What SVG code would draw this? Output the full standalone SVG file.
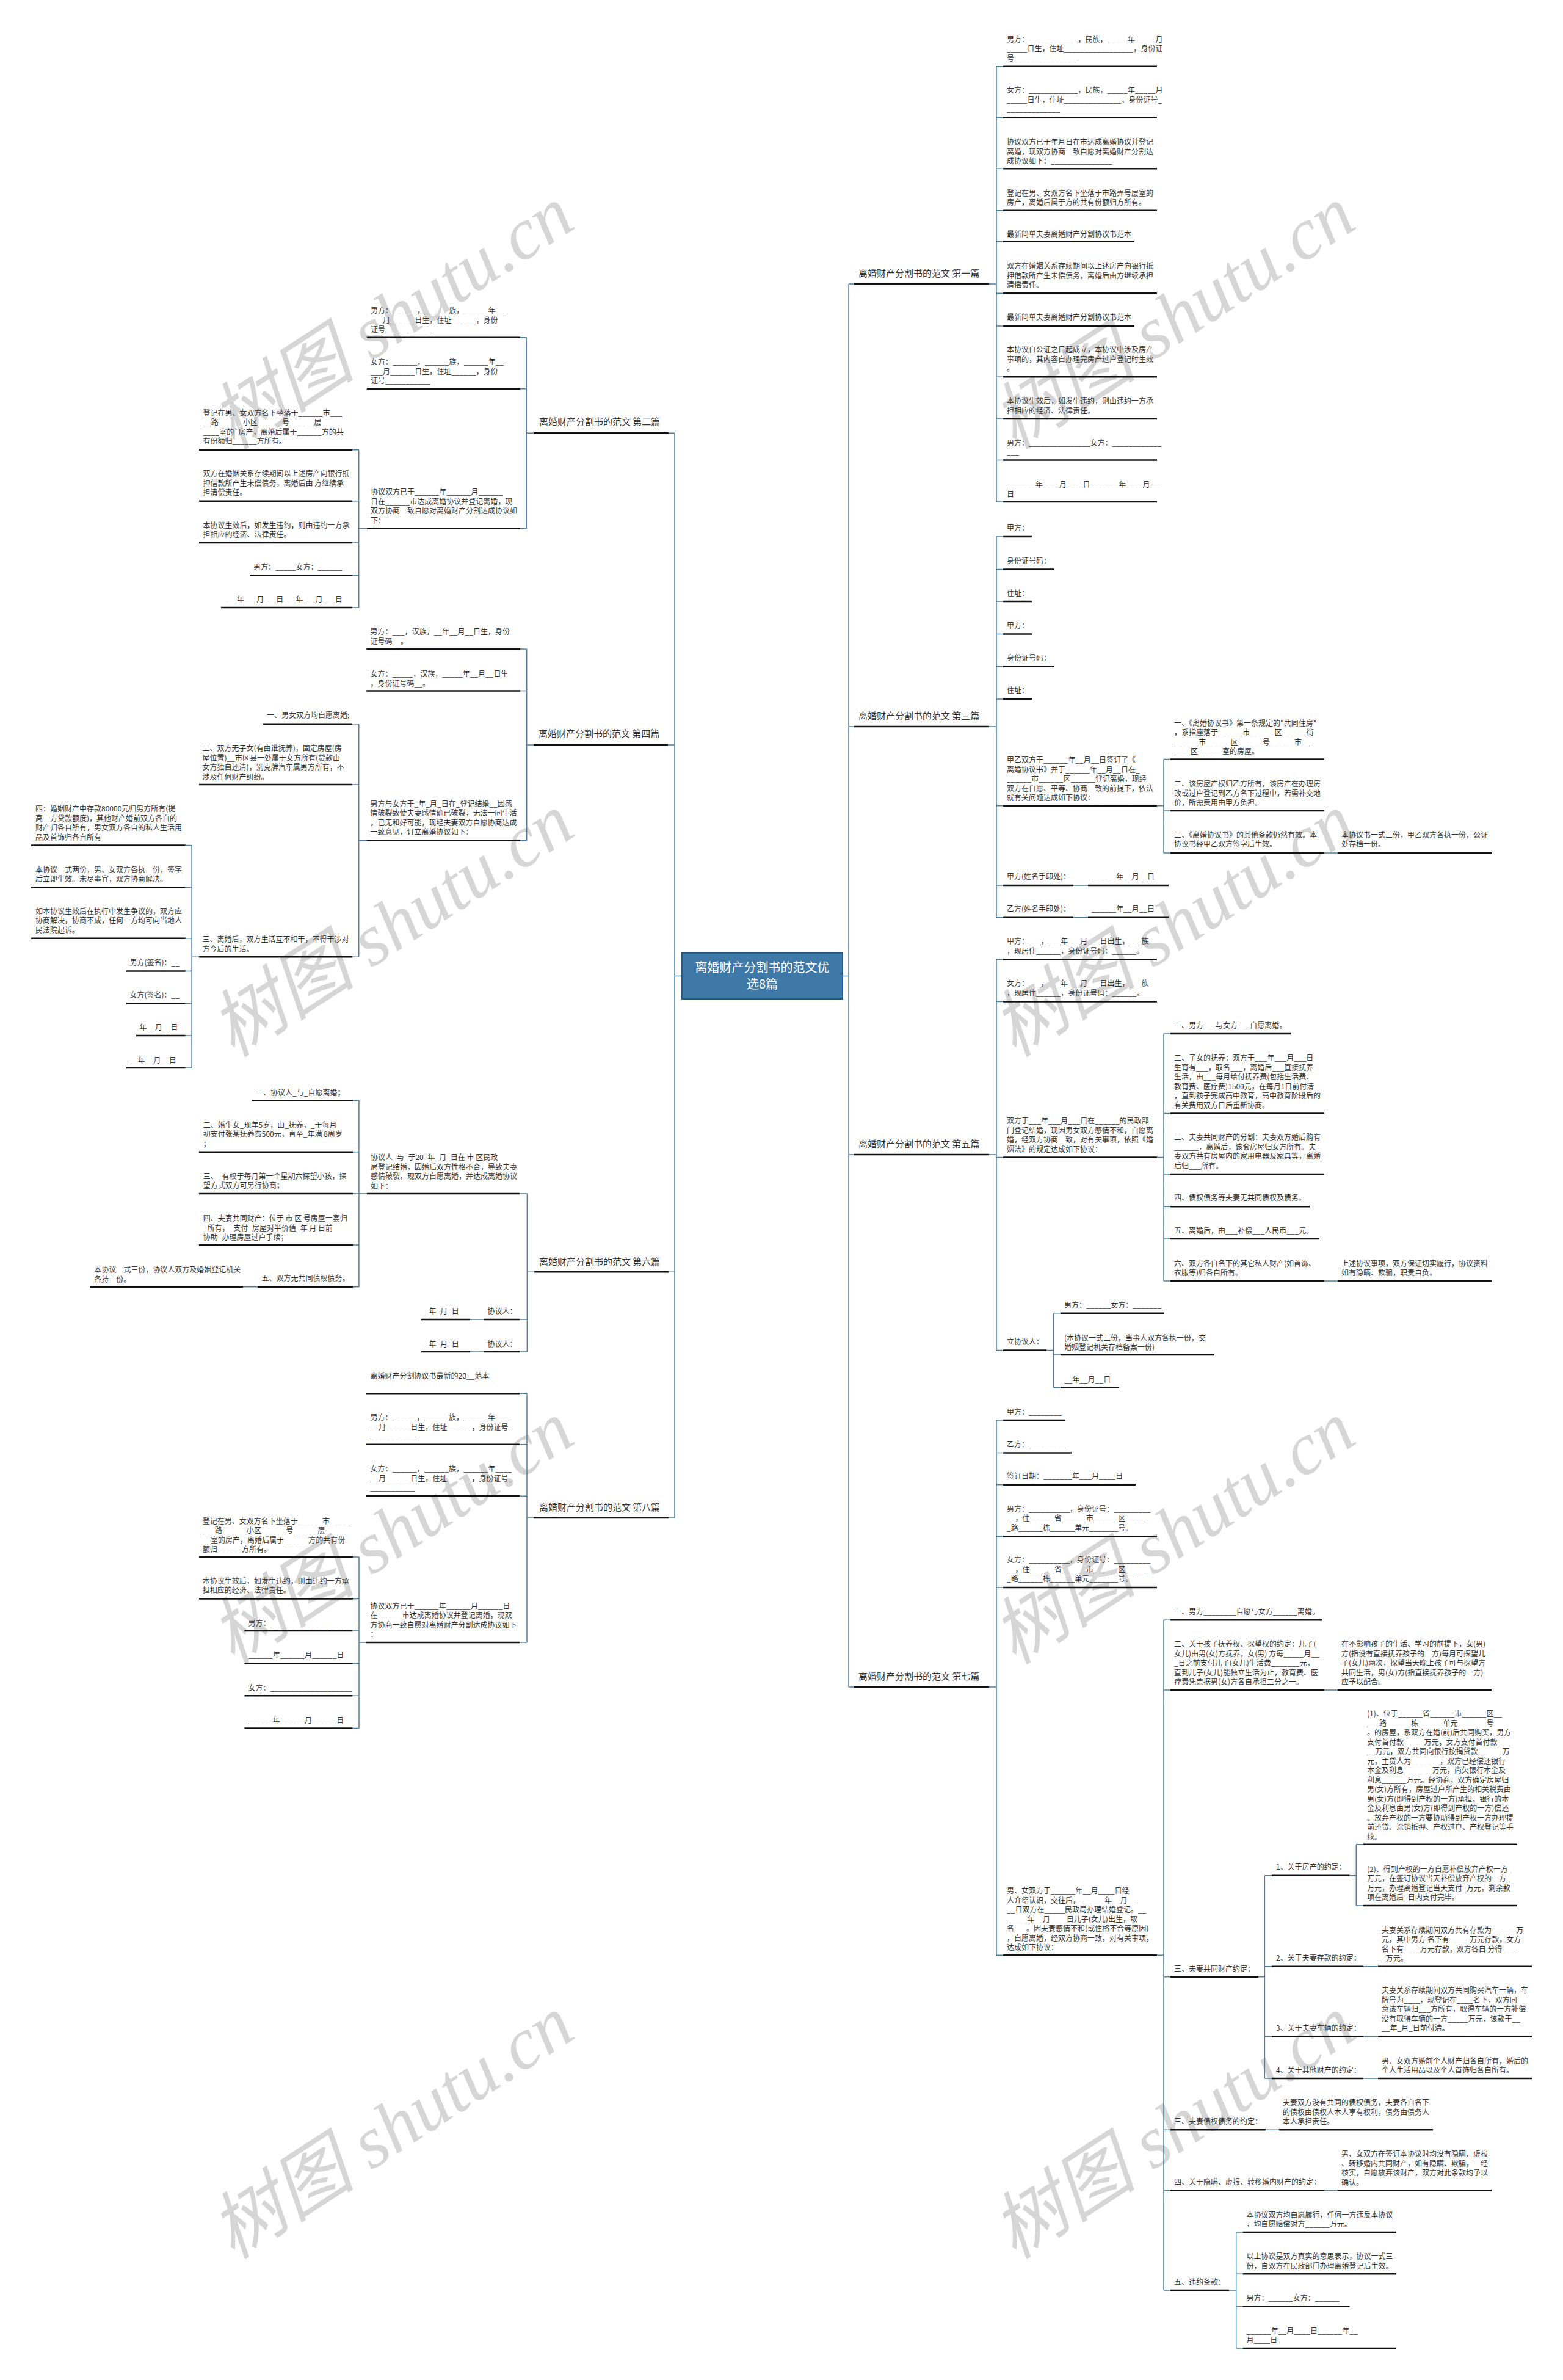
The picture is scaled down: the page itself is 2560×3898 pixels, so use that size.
<svg xmlns="http://www.w3.org/2000/svg" width="2560" height="3898" viewBox="0 0 2560 3898">
<style>
.t{font-family:"Noto Sans CJK SC","Liberation Sans",sans-serif;font-size:12px;fill:#333}
.l{font-family:"Noto Sans CJK SC","Liberation Sans",sans-serif;font-size:15px;fill:#333}
.u{stroke:#111;stroke-width:2.5}
.c{stroke:#4f7f9f;stroke-width:1.5;fill:none}
.wm{font-family:"Liberation Serif","Noto Sans CJK SC",serif;font-size:120px;font-style:italic;fill:#c8c8c8;fill-opacity:0.75}
</style>
<rect width="2560" height="3898" fill="#fff"/>
<g id="watermarks">
<text class="wm" x="646" y="560" text-anchor="middle" transform="rotate(-33 646 527)">树图 shutu.cn</text>
<text class="wm" x="646" y="1555" text-anchor="middle" transform="rotate(-33 646 1522)">树图 shutu.cn</text>
<text class="wm" x="646" y="2550" text-anchor="middle" transform="rotate(-33 646 2517)">树图 shutu.cn</text>
<text class="wm" x="646" y="3524" text-anchor="middle" transform="rotate(-33 646 3491)">树图 shutu.cn</text>
<text class="wm" x="1926" y="560" text-anchor="middle" transform="rotate(-33 1926 527)">树图 shutu.cn</text>
<text class="wm" x="1926" y="1555" text-anchor="middle" transform="rotate(-33 1926 1522)">树图 shutu.cn</text>
<text class="wm" x="1926" y="2550" text-anchor="middle" transform="rotate(-33 1926 2517)">树图 shutu.cn</text>
<text class="wm" x="1926" y="3524" text-anchor="middle" transform="rotate(-33 1926 3491)">树图 shutu.cn</text>
</g>
<g id="connectors">
<path class="c" d="M1117 1598.5H1105M1105 709.3V2486M1105 709.3H1095M1105 1220H1094M1105 2083.3H1095M1105 2486H1095"/>
<path class="c" d="M1380 1598.5H1390M1390 465V2763M1390 465H1399M1390 1190H1399M1390 1891H1399M1390 2763H1399"/>
<path class="c" d="M1620 465H1632M1632 108.7V822M1632 108.7H1643M1632 192.4H1643M1632 276.2H1643M1632 344.7H1643M1632 395.5H1643M1632 480.3H1643M1632 534H1643M1632 617.3H1643M1632 686H1643M1632 753.4H1643M1632 822H1643"/>
<path class="c" d="M1620 1190H1632M1632 878.9V1502.7M1632 878.9H1643M1632 932.4H1643M1632 985H1643M1632 1038.6H1643M1632 1091.6H1643M1632 1145H1643M1632 1319.8H1643M1632 1450H1643M1632 1502.7H1643M1895 1319.8H1906M1906 1243.4V1397M1906 1243.4H1917M1906 1328H1917M1906 1397H1917M2169 1397H2191M1758 1450H1782M1758 1502.7H1782"/>
<path class="c" d="M1620 1891H1632M1632 1571.2V2211.5M1632 1571.2H1643M1632 1640.4H1643M1632 1895.6H1643M1632 2211.5H1643M1895 1895.6H1906M1906 1693V2098M1906 1693H1917M1906 1823.5H1917M1906 1923H1917M1906 1976.2H1917M1906 2029H1917M1906 2098H1917M2169 2098H2191M1714 2211.5H1725.5M1725.5 2150.8V2272.7M1725.5 2150.8H1737M1725.5 2219H1737M1725.5 2272.7H1737"/>
<path class="c" d="M1620 2763H1632M1632 2326V3202.3M1632 2326H1643M1632 2379.4H1643M1632 2431.7H1643M1632 2516.5H1643M1632 2600H1643M1632 3202.3H1643M1895 3202.3H1906M1906 2653.2V3751M1906 2653.2H1917M1906 2768.1H1917M1906 3237.7H1917M1906 3488.3H1917M1906 3587.3H1917M1906 3751H1917M2169 2768.1H2191M2061 3237.7H2071.4M2071.4 3071.7V3404M2071.4 3071.7H2083M2071.4 3220.7H2083M2071.4 3335.7H2083M2071.4 3404H2083M2210.5 3071.7H2221.3M2221.3 3020.7V3121M2221.3 3020.7H2233M2221.3 3121H2233M2233 3220.7H2257M2233 3335.7H2257M2233 3404H2257M2073 3488.3H2095M2169 3587.3H2191M2013 3751H2024.7M2024.7 3656V3846M2024.7 3656H2035.5M2024.7 3724.3H2035.5M2024.7 3777.7H2035.5M2024.7 3846H2035.5"/>
<path class="c" d="M874 709.3H862.2M862.2 552.7V865.7M862.2 552.7H851.8M862.2 636.7H851.8M862.2 865.7H851.8M600.7 865.7H587.7M587.7 736.7V995M587.7 736.7H577M587.7 820.7H577M587.7 889H577M587.7 942.3H577M587.7 995H577"/>
<path class="c" d="M874 1220H862.7M862.7 1062.9V1376.7M862.7 1062.9H852.2M862.7 1131.6H852.2M862.7 1376.7H852.2M600.3 1376.7H587.7M587.7 1185.7V1567.3M587.7 1185.7H577M587.7 1284.9H577M587.7 1567.3H577M326 1567.3H314.1M314.1 1384.6V1749M314.1 1384.6H303.6M314.1 1453.3H303.6M314.1 1536.8H303.6M314.1 1590.4H303.6M314.1 1643.4H303.6M314.1 1696H303.6M314.1 1749H303.6"/>
<path class="c" d="M875 2083.3H863.4M863.4 1955V2214M863.4 1955H851M863.4 2161H851M863.4 2214H851M600.7 1955H587.9M587.9 1802.3V2107.7M587.9 1802.3H578M587.9 1886.7H578M587.9 1955H578M587.9 2039H578M587.9 2107.7H578M422 2107.7H398M792 2161H770M792 2214H770"/>
<path class="c" d="M874 2486H863M863 2282.2V2690M863 2282.2H851M863 2365.8H851M863 2450.2H851M863 2690H851M600 2690H588M588 2550V2830.6M588 2550H578M588 2618.5H578M588 2671.1H578M588 2724.2H578M588 2777.2H578M588 2830.6H578"/>
</g>
<g id="center">
<rect x="1117" y="1561" width="263" height="75" fill="#3f79a7" stroke="#2a577a" stroke-width="2"/>
<text x="1248.5" y="1592" text-anchor="middle" style="font-family:'Noto Sans CJK SC',sans-serif;font-size:20px;fill:#fff">离婚财产分割书的范文优</text>
<text x="1248.5" y="1619" text-anchor="middle" style="font-family:'Noto Sans CJK SC',sans-serif;font-size:20px;fill:#fff">选8篇</text>
</g>
<g id="label-1"><text class="l" x="1406" y="453">离婚财产分割书的范文 第一篇</text><line class="u" x1="1399" y1="465" x2="1620" y2="465"/></g>
<g id="label-3"><text class="l" x="1406" y="1178">离婚财产分割书的范文 第三篇</text><line class="u" x1="1399" y1="1190" x2="1620" y2="1190"/></g>
<g id="label-5"><text class="l" x="1406" y="1879">离婚财产分割书的范文 第五篇</text><line class="u" x1="1399" y1="1891" x2="1620" y2="1891"/></g>
<g id="label-7"><text class="l" x="1406" y="2751">离婚财产分割书的范文 第七篇</text><line class="u" x1="1399" y1="2763" x2="1620" y2="2763"/></g>
<g id="label-2"><text class="l" x="883" y="696">离婚财产分割书的范文 第二篇</text><line class="u" x1="874" y1="709.3" x2="1095" y2="709.3"/></g>
<g id="label-4"><text class="l" x="882" y="1207">离婚财产分割书的范文 第四篇</text><line class="u" x1="874" y1="1220" x2="1094" y2="1220"/></g>
<g id="label-6"><text class="l" x="883" y="2072">离婚财产分割书的范文 第六篇</text><line class="u" x1="875" y1="2083.3" x2="1095" y2="2083.3"/></g>
<g id="label-8"><text class="l" x="883" y="2474">离婚财产分割书的范文 第八篇</text><line class="u" x1="874" y1="2486" x2="1095" y2="2486"/></g>

<g id="b1-n1"><text class="t" y="68.5"><tspan x="1649">男方：____________，民族，_____年_____月</tspan><tspan x="1649" dy="15.5">_____日生，住址_________________，身份证</tspan><tspan x="1649" dy="15.5">号_______________</tspan></text><line class="u" x1="1643" y1="108.7" x2="1895" y2="108.7"/></g>
<g id="b1-n2"><text class="t" y="152.3"><tspan x="1649">女方：____________，民族，_____年_____月</tspan><tspan x="1649" dy="15.5">_____日生，住址______________，身份证号_</tspan><tspan x="1649" dy="15.5">_____________</tspan></text><line class="u" x1="1643" y1="192.4" x2="1895" y2="192.4"/></g>
<g id="b1-n3"><text class="t" y="237"><tspan x="1649">协议双方已于年月日在市达成离婚协议并登记</tspan><tspan x="1649" dy="15.5">离婚，现双方协商一致自愿对离婚财产分割达</tspan><tspan x="1649" dy="15.5">成协议如下：_______________</tspan></text><line class="u" x1="1643" y1="276.2" x2="1895" y2="276.2"/></g>
<g id="b1-n4"><text class="t" y="320.8"><tspan x="1649">登记在男、女双方名下坐落于市路弄号层室的</tspan><tspan x="1649" dy="15.5">房产，离婚后属于方的共有份额归方所有。</tspan></text><line class="u" x1="1643" y1="344.7" x2="1895" y2="344.7"/></g>
<g id="b1-n5"><text class="t" x="1649" y="387.8">最新简单夫妻离婚财产分割协议书范本</text><line class="u" x1="1643" y1="395.5" x2="1858" y2="395.5"/></g>
<g id="b1-n6"><text class="t" y="440"><tspan x="1649">双方在婚姻关系存续期间以上述房产向银行抵</tspan><tspan x="1649" dy="15.5">押借款所产生未偿债务，离婚后由方继续承担</tspan><tspan x="1649" dy="15.5">清偿责任。</tspan></text><line class="u" x1="1643" y1="480.3" x2="1895" y2="480.3"/></g>
<g id="b1-n7"><text class="t" x="1649" y="523.8">最新简单夫妻离婚财产分割协议书范本</text><line class="u" x1="1643" y1="534" x2="1858" y2="534"/></g>
<g id="b1-n8"><text class="t" y="577"><tspan x="1649">本协议自公证之日起成立，本协议中涉及房产</tspan><tspan x="1649" dy="15.5">事项的，其内容自办理完房产过户登记时生效</tspan><tspan x="1649" dy="15.5">。</tspan></text><line class="u" x1="1643" y1="617.3" x2="1895" y2="617.3"/></g>
<g id="b1-n9"><text class="t" y="661"><tspan x="1649">本协议生效后，如发生违约，则由违约一方承</tspan><tspan x="1649" dy="15.5">担相应的经济、法律责任。</tspan></text><line class="u" x1="1643" y1="686" x2="1895" y2="686"/></g>
<g id="b1-n10"><text class="t" y="729.5"><tspan x="1649">男方：_______________女方：____________</tspan><tspan x="1649" dy="15.5">___</tspan></text><line class="u" x1="1643" y1="753.4" x2="1895" y2="753.4"/></g>
<g id="b1-n11"><text class="t" y="798"><tspan x="1649">_______年____月____日_______年____月___</tspan><tspan x="1649" dy="15.5">日</tspan></text><line class="u" x1="1643" y1="822" x2="1895" y2="822"/></g>

<g id="b3-n1"><text class="t" x="1649" y="869">甲方：</text><line class="u" x1="1643" y1="878.9" x2="1690" y2="878.9"/></g>
<g id="b3-n2"><text class="t" x="1649" y="922.5">身份证号码：</text><line class="u" x1="1643" y1="932.4" x2="1727" y2="932.4"/></g>
<g id="b3-n3"><text class="t" x="1649" y="976">住址：</text><line class="u" x1="1643" y1="985" x2="1690" y2="985"/></g>
<g id="b3-n4"><text class="t" x="1649" y="1028.6">甲方：</text><line class="u" x1="1643" y1="1038.6" x2="1690" y2="1038.6"/></g>
<g id="b3-n5"><text class="t" x="1649" y="1082">身份证号码：</text><line class="u" x1="1643" y1="1091.6" x2="1727" y2="1091.6"/></g>
<g id="b3-n6"><text class="t" x="1649" y="1135">住址：</text><line class="u" x1="1643" y1="1145" x2="1690" y2="1145"/></g>
<g id="b3-n7"><text class="t" y="1249.3"><tspan x="1649">甲乙双方于______年__月__日签订了《</tspan><tspan x="1649" dy="15.5">离婚协议书》并于______年__月__日在_</tspan><tspan x="1649" dy="15.5">______市______区______登记离婚，现经</tspan><tspan x="1649" dy="15.5">双方在自愿、平等、协商一致的前提下，依法</tspan><tspan x="1649" dy="15.5">就有关问题达成如下协议：</tspan></text><line class="u" x1="1643" y1="1319.8" x2="1895" y2="1319.8"/></g>
<g id="b3-n7-1"><text class="t" y="1188.7"><tspan x="1923">一、《离婚协议书》第一条规定的"共同住房"</tspan><tspan x="1923" dy="15.5">，系指座落于______市______区______街</tspan><tspan x="1923" dy="15.5">______市______区______号______市__</tspan><tspan x="1923" dy="15.5">____区______室的房屋。</tspan></text><line class="u" x1="1917" y1="1243.4" x2="2169" y2="1243.4"/></g>
<g id="b3-n7-2"><text class="t" y="1288"><tspan x="1923">二、该房屋产权归乙方所有，该房产在办理房</tspan><tspan x="1923" dy="15.5">改或过户登记到乙方名下过程中，若需补交地</tspan><tspan x="1923" dy="15.5">价，所需费用由甲方负担。</tspan></text><line class="u" x1="1917" y1="1328" x2="2169" y2="1328"/></g>
<g id="b3-n7-3"><text class="t" y="1371.7"><tspan x="1923">三、《离婚协议书》的其他条款仍然有效。本</tspan><tspan x="1923" dy="15.5">协议书经甲乙双方签字后生效。</tspan></text><line class="u" x1="1917" y1="1397" x2="2169" y2="1397"/></g>
<g id="b3-n7-3-1"><text class="t" y="1371.7"><tspan x="2197">本协议书一式三份，甲乙双方各执一份，公证</tspan><tspan x="2197" dy="15.5">处存档一份。</tspan></text><line class="u" x1="2191" y1="1397" x2="2443" y2="1397"/></g>
<g id="b3-n8"><text class="t" x="1649" y="1440">甲方(姓名手印处)：</text><line class="u" x1="1643" y1="1450" x2="1758" y2="1450"/></g>
<g id="b3-n8-1"><text class="t" x="1788" y="1440">______年__月__日</text><line class="u" x1="1782" y1="1450" x2="1914" y2="1450"/></g>
<g id="b3-n9"><text class="t" x="1649" y="1492.8">乙方(姓名手印处)：</text><line class="u" x1="1643" y1="1502.7" x2="1758" y2="1502.7"/></g>
<g id="b3-n9-1"><text class="t" x="1788" y="1492.8">______年__月__日</text><line class="u" x1="1782" y1="1502.7" x2="1914" y2="1502.7"/></g>

<g id="b5-n1"><text class="t" y="1546.4"><tspan x="1649">甲方：___，___年___月___日出生，___族</tspan><tspan x="1649" dy="15.5">，现居住______，身份证号码：______。</tspan></text><line class="u" x1="1643" y1="1571.2" x2="1895" y2="1571.2"/></g>
<g id="b5-n2"><text class="t" y="1615"><tspan x="1649">女方：___，___年___月___日出生，___族</tspan><tspan x="1649" dy="15.5">，现居住______，身份证号码：______。</tspan></text><line class="u" x1="1643" y1="1640.4" x2="1895" y2="1640.4"/></g>
<g id="b5-n3"><text class="t" y="1840"><tspan x="1649">双方于___年___月___日在______的民政部</tspan><tspan x="1649" dy="15.5">门登记结婚，现因男女双方感情不和，自愿离</tspan><tspan x="1649" dy="15.5">婚，经双方协商一致，对有关事项，依照《婚</tspan><tspan x="1649" dy="15.5">姻法》的规定达成如下协议：</tspan></text><line class="u" x1="1643" y1="1895.6" x2="1895" y2="1895.6"/></g>
<g id="b5-n3-1"><text class="t" x="1923" y="1684.2">一、男方___与女方___自愿离婚。</text><line class="u" x1="1917" y1="1693" x2="2115" y2="1693"/></g>
<g id="b5-n3-2"><text class="t" y="1737"><tspan x="1923">二、子女的抚养：双方于___年___月___日</tspan><tspan x="1923" dy="15.5">生育有___，取名___，离婚后___直接抚养</tspan><tspan x="1923" dy="15.5">生活，由___每月给付抚养费(包括生活费、</tspan><tspan x="1923" dy="15.5">教育费、医疗费)1500元，在每月1日前付清</tspan><tspan x="1923" dy="15.5">，直到孩子完成高中教育，高中教育阶段后的</tspan><tspan x="1923" dy="15.5">有关费用双方日后重新协商。</tspan></text><line class="u" x1="1917" y1="1823.5" x2="2169" y2="1823.5"/></g>
<g id="b5-n3-3"><text class="t" y="1867.3"><tspan x="1923">三、夫妻共同财产的分割：夫妻双方婚后购有</tspan><tspan x="1923" dy="15.5">______，离婚后，该套房屋归女方所有。夫</tspan><tspan x="1923" dy="15.5">妻双方共有房屋内的家用电器及家具等，离婚</tspan><tspan x="1923" dy="15.5">后归___所有。</tspan></text><line class="u" x1="1917" y1="1923" x2="2169" y2="1923"/></g>
<g id="b5-n3-4"><text class="t" x="1923" y="1965.8">四、债权债务等夫妻无共同债权及债务。</text><line class="u" x1="1917" y1="1976.2" x2="2145" y2="1976.2"/></g>
<g id="b5-n3-5"><text class="t" x="1923" y="2019.5">五、离婚后，由___补偿___人民币___元。</text><line class="u" x1="1917" y1="2029" x2="2161" y2="2029"/></g>
<g id="b5-n3-6"><text class="t" y="2073.8"><tspan x="1923">六、双方各自名下的其它私人财产(如首饰、</tspan><tspan x="1923" dy="15.5">衣服等)归各自所有。</tspan></text><line class="u" x1="1917" y1="2098" x2="2169" y2="2098"/></g>
<g id="b5-n3-6-1"><text class="t" y="2073.8"><tspan x="2197">上述协议事项，双方保证切实履行，协议资料</tspan><tspan x="2197" dy="15.5">如有隐瞒、欺骗，职责自负。</tspan></text><line class="u" x1="2191" y1="2098" x2="2443" y2="2098"/></g>
<g id="b5-n4"><text class="t" x="1649" y="2201.6">立协议人：</text><line class="u" x1="1643" y1="2211.5" x2="1714" y2="2211.5"/></g>
<g id="b5-n4-1"><text class="t" x="1743" y="2142">男方：______女方：_______</text><line class="u" x1="1737" y1="2150.8" x2="1907" y2="2150.8"/></g>
<g id="b5-n4-2"><text class="t" y="2195.6"><tspan x="1743">(本协议一式三份，当事人双方各执一份，交</tspan><tspan x="1743" dy="15.5">婚姻登记机关存档备案一份)</tspan></text><line class="u" x1="1737" y1="2219" x2="1989" y2="2219"/></g>
<g id="b5-n4-3"><text class="t" x="1743" y="2263.8">__年__月__日</text><line class="u" x1="1737" y1="2272.7" x2="1833" y2="2272.7"/></g>

<g id="b7-n1"><text class="t" x="1649" y="2316.5">甲方：________</text><line class="u" x1="1643" y1="2326" x2="1745" y2="2326"/></g>
<g id="b7-n2"><text class="t" x="1649" y="2370.3">乙方：_________</text><line class="u" x1="1643" y1="2379.4" x2="1755" y2="2379.4"/></g>
<g id="b7-n3"><text class="t" x="1649" y="2422.2">签订日期：_______年___月____日</text><line class="u" x1="1643" y1="2431.7" x2="1860" y2="2431.7"/></g>
<g id="b7-n4"><text class="t" y="2475.5"><tspan x="1649">男方：__________，身份证号：_________</tspan><tspan x="1649" dy="15.5">__，住______省______市______区_____</tspan><tspan x="1649" dy="15.5">_路______栋______单元_______号。</tspan></text><line class="u" x1="1643" y1="2516.5" x2="1895" y2="2516.5"/></g>
<g id="b7-n5"><text class="t" y="2559.3"><tspan x="1649">女方：__________，身份证号：_________</tspan><tspan x="1649" dy="15.5">__，住______省______市______区_____</tspan><tspan x="1649" dy="15.5">_路______栋______单元_______号。</tspan></text><line class="u" x1="1643" y1="2600" x2="1895" y2="2600"/></g>
<g id="b7-n6"><text class="t" y="3101.3"><tspan x="1649">男、女双方于______年__月____日经</tspan><tspan x="1649" dy="15.5">人介绍认识，交往后，______年__月__</tspan><tspan x="1649" dy="15.5">__日双方在_____民政局办理结婚登记。__</tspan><tspan x="1649" dy="15.5">_____年__月____日儿子(女儿)出生，取</tspan><tspan x="1649" dy="15.5">名___。因夫妻感情不和(或性格不合等原因)</tspan><tspan x="1649" dy="15.5">，自愿离婚，经双方协商一致，对有关事项，</tspan><tspan x="1649" dy="15.5">达成如下协议：</tspan></text><line class="u" x1="1643" y1="3202.3" x2="1895" y2="3202.3"/></g>
<g id="b7-n6-1"><text class="t" x="1923" y="2643.7">一、男方________自愿与女方______离婚。</text><line class="u" x1="1917" y1="2653.2" x2="2165" y2="2653.2"/></g>
<g id="b7-n6-2"><text class="t" y="2697"><tspan x="1923">二、关于孩子抚养权、探望权的约定：儿子(</tspan><tspan x="1923" dy="15.5">女儿)由男(女)方抚养，女(男) 方每_____月__</tspan><tspan x="1923" dy="15.5">_日之前支付儿子(女儿)生活费_______元，</tspan><tspan x="1923" dy="15.5">直到儿子(女儿)能独立生活为止，教育费、医</tspan><tspan x="1923" dy="15.5">疗费凭票据男(女)方各自承担二分之一。</tspan></text><line class="u" x1="1917" y1="2768.1" x2="2169" y2="2768.1"/></g>
<g id="b7-n6-2-1"><text class="t" y="2697"><tspan x="2197">在不影响孩子的生活、学习的前提下，女(男)</tspan><tspan x="2197" dy="15.5">方(指没有直接抚养孩子的一方)每月可探望儿</tspan><tspan x="2197" dy="15.5">子(女儿)两次，探望当天晚上孩子可与探望方</tspan><tspan x="2197" dy="15.5">共同生活，男(女)方(指直接抚养孩子的一方)</tspan><tspan x="2197" dy="15.5">应予以配合。</tspan></text><line class="u" x1="2191" y1="2768.1" x2="2443" y2="2768.1"/></g>
<g id="b7-n6-3"><text class="t" x="1923" y="3229">三、夫妻共同财产约定：</text><line class="u" x1="1917" y1="3237.7" x2="2061" y2="3237.7"/></g>
<g id="b7-n6-3-1"><text class="t" x="2090" y="3062.3">1、关于房产的约定：</text><line class="u" x1="2083" y1="3071.7" x2="2210.5" y2="3071.7"/></g>
<g id="b7-n6-3-1-1"><text class="t" y="2811.4"><tspan x="2239">(1)、位于______省______市______区__</tspan><tspan x="2239" dy="15.5">___路______栋______单元_______号</tspan><tspan x="2239" dy="15.5">。的房屋，系双方在婚(前)后共同购买，男方</tspan><tspan x="2239" dy="15.5">支付首付款_____万元，女方支付首付款___</tspan><tspan x="2239" dy="15.5">__万元，双方共同向银行按揭贷款______万</tspan><tspan x="2239" dy="15.5">元，主贷人为_______，双方已经偿还银行</tspan><tspan x="2239" dy="15.5">本金及利息_______万元，尚欠银行本金及</tspan><tspan x="2239" dy="15.5">利息______万元。经协商，双方确定房屋归</tspan><tspan x="2239" dy="15.5">男(女)方所有，房屋过户所产生的相关税费由</tspan><tspan x="2239" dy="15.5">男(女)方(即得到产权的一方)承担，银行的本</tspan><tspan x="2239" dy="15.5">金及利息由男(女)方(即得到产权的一方)偿还</tspan><tspan x="2239" dy="15.5">。放弃产权的一方要协助得到产权一方办理提</tspan><tspan x="2239" dy="15.5">前还贷、涂销抵押、产权过户、产权登记等手</tspan><tspan x="2239" dy="15.5">续。</tspan></text><line class="u" x1="2233" y1="3020.7" x2="2485" y2="3020.7"/></g>
<g id="b7-n6-3-1-2"><text class="t" y="3065.7"><tspan x="2239">(2)、得到产权的一方自愿补偿放弃产权一方_</tspan><tspan x="2239" dy="15.5">万元，在签订协议当天补偿放弃产权的一方_</tspan><tspan x="2239" dy="15.5">万元，办理离婚登记当天支付_万元，剩余款</tspan><tspan x="2239" dy="15.5">项在离婚后_日内支付完毕。</tspan></text><line class="u" x1="2233" y1="3121" x2="2485" y2="3121"/></g>
<g id="b7-n6-3-2"><text class="t" x="2090" y="3211.3">2、关于夫妻存款的约定：</text><line class="u" x1="2083" y1="3220.7" x2="2233" y2="3220.7"/></g>
<g id="b7-n6-3-2-1"><text class="t" y="3165.7"><tspan x="2263">夫妻关系存续期间双方共有存款为______万</tspan><tspan x="2263" dy="15.5">元，其中男方 名下有_____万元存款，女方</tspan><tspan x="2263" dy="15.5">名下有____万元存款，双方各自 分得____</tspan><tspan x="2263" dy="15.5">_万元。</tspan></text><line class="u" x1="2257" y1="3220.7" x2="2509" y2="3220.7"/></g>
<g id="b7-n6-3-3"><text class="t" x="2090" y="3326.3">3、关于夫妻车辆的约定：</text><line class="u" x1="2083" y1="3335.7" x2="2233" y2="3335.7"/></g>
<g id="b7-n6-3-3-1"><text class="t" y="3264"><tspan x="2263">夫妻关系存续期间双方共同购买汽车一辆，车</tspan><tspan x="2263" dy="15.5">牌号为____，现登记在____名下，双方同</tspan><tspan x="2263" dy="15.5">意该车辆归___方所有，取得车辆的一方补偿</tspan><tspan x="2263" dy="15.5">没有取得车辆的一方_____万元，该款于__</tspan><tspan x="2263" dy="15.5">__年_月_日前付清。</tspan></text><line class="u" x1="2257" y1="3335.7" x2="2509" y2="3335.7"/></g>
<g id="b7-n6-3-4"><text class="t" x="2090" y="3394.7">4、关于其他财产的约定：</text><line class="u" x1="2083" y1="3404" x2="2233" y2="3404"/></g>
<g id="b7-n6-3-4-1"><text class="t" y="3379.7"><tspan x="2263">男、女双方婚前个人财产归各自所有，婚后的</tspan><tspan x="2263" dy="15.5">个人生活用品以及个人首饰归各自所有。</tspan></text><line class="u" x1="2257" y1="3404" x2="2509" y2="3404"/></g>
<g id="b7-n6-4"><text class="t" x="1923" y="3479">三、夫妻债权债务的约定：</text><line class="u" x1="1917" y1="3488.3" x2="2073" y2="3488.3"/></g>
<g id="b7-n6-4-1"><text class="t" y="3448"><tspan x="2101">夫妻双方没有共同的债权债务，夫妻各自名下</tspan><tspan x="2101" dy="15.5">的债权由债权人本人享有权利，债务由债务人</tspan><tspan x="2101" dy="15.5">本人承担责任。</tspan></text><line class="u" x1="2095" y1="3488.3" x2="2347" y2="3488.3"/></g>
<g id="b7-n6-5"><text class="t" x="1923" y="3578.3">四、关于隐瞒、虚报、转移婚内财产的约定：</text><line class="u" x1="1917" y1="3587.3" x2="2169" y2="3587.3"/></g>
<g id="b7-n6-5-1"><text class="t" y="3532.3"><tspan x="2197">男、女双方在签订本协议时均没有隐瞒、虚报</tspan><tspan x="2197" dy="15.5">、转移婚内共同财产，如有隐瞒、欺骗，一经</tspan><tspan x="2197" dy="15.5">核实，自愿放弃该财产，双方对此条款均予以</tspan><tspan x="2197" dy="15.5">确认。</tspan></text><line class="u" x1="2191" y1="3587.3" x2="2443" y2="3587.3"/></g>
<g id="b7-n6-6"><text class="t" x="1923" y="3742.3">五、违约条款：</text><line class="u" x1="1917" y1="3751" x2="2013" y2="3751"/></g>
<g id="b7-n6-6-1"><text class="t" y="3631.7"><tspan x="2041.5">本协议双方均自愿履行，任何一方违反本协议</tspan><tspan x="2041.5" dy="15.5">，均自愿赔偿对方______万元。</tspan></text><line class="u" x1="2035.5" y1="3656" x2="2287" y2="3656"/></g>
<g id="b7-n6-6-2"><text class="t" y="3700"><tspan x="2041.5">以上协议是双方真实的意思表示，协议一式三</tspan><tspan x="2041.5" dy="15.5">份，自双方在民政部门办理离婚登记后生效。</tspan></text><line class="u" x1="2035.5" y1="3724.3" x2="2287" y2="3724.3"/></g>
<g id="b7-n6-6-3"><text class="t" x="2041.5" y="3768.3">男方：______女方：______</text><line class="u" x1="2035.5" y1="3777.7" x2="2210.5" y2="3777.7"/></g>
<g id="b7-n6-6-4"><text class="t" y="3821.7"><tspan x="2041.5">______年__月____日______年__</tspan><tspan x="2041.5" dy="15.5">月____日</tspan></text><line class="u" x1="2035.5" y1="3846" x2="2287" y2="3846"/></g>

<g id="b2-n1"><text class="t" y="513.3"><tspan x="607">男方：______，______族，______年__</tspan><tspan x="607" dy="15.5">___月______日生，住址______，身份</tspan><tspan x="607" dy="15.5">证号____________</tspan></text><line class="u" x1="600.7" y1="552.7" x2="851.8" y2="552.7"/></g>
<g id="b2-n2"><text class="t" y="597.3"><tspan x="607">女方：______，______族，______年__</tspan><tspan x="607" dy="15.5">___月______日生，住址______，身份</tspan><tspan x="607" dy="15.5">证号___________</tspan></text><line class="u" x1="600.7" y1="636.7" x2="851.8" y2="636.7"/></g>
<g id="b2-n3"><text class="t" y="810"><tspan x="607">协议双方已于______年______月______</tspan><tspan x="607" dy="15.5">日在______市达成离婚协议并登记离婚，现</tspan><tspan x="607" dy="15.5">双方协商一致自愿对离婚财产分割达成协议如</tspan><tspan x="607" dy="15.5">下：</tspan></text><line class="u" x1="600.7" y1="865.7" x2="851.8" y2="865.7"/></g>
<g id="b2-n3-1"><text class="t" y="680.7"><tspan x="332.4">登记在男、女双方名下坐落于______市___</tspan><tspan x="332.4" dy="15.5">__路______小区______号______层__</tspan><tspan x="332.4" dy="15.5">____室的`房产，离婚后属于______方的共</tspan><tspan x="332.4" dy="15.5">有份额归______方所有。</tspan></text><line class="u" x1="326" y1="736.7" x2="577" y2="736.7"/></g>
<g id="b2-n3-2"><text class="t" y="780"><tspan x="332.4">双方在婚姻关系存续期间以上述房产向银行抵</tspan><tspan x="332.4" dy="15.5">押借款所产生未偿债务，离婚后由 方继续承</tspan><tspan x="332.4" dy="15.5">担清偿责任。</tspan></text><line class="u" x1="326" y1="820.7" x2="577" y2="820.7"/></g>
<g id="b2-n3-3"><text class="t" y="864.7"><tspan x="332.4">本协议生效后，如发生违约，则由违约一方承</tspan><tspan x="332.4" dy="15.5">担相应的经济、法律责任。</tspan></text><line class="u" x1="326" y1="889" x2="577" y2="889"/></g>
<g id="b2-n3-4"><text class="t" x="415" y="933.3">男方：_____女方：______</text><line class="u" x1="409" y1="942.3" x2="577" y2="942.3"/></g>
<g id="b2-n3-5"><text class="t" x="368" y="986.3">___年___月___日___年___月___日</text><line class="u" x1="362" y1="995" x2="577" y2="995"/></g>

<g id="b4-n1"><text class="t" y="1039.4"><tspan x="606.6">男方：___，汉族，__年__月__日生，身份</tspan><tspan x="606.6" dy="15.5">证号码__。</tspan></text><line class="u" x1="600.3" y1="1062.9" x2="852.2" y2="1062.9"/></g>
<g id="b4-n2"><text class="t" y="1108.1"><tspan x="606.6">女方：_____，汉族，_____年__月__日生</tspan><tspan x="606.6" dy="15.5">，身份证号码__。</tspan></text><line class="u" x1="600.3" y1="1131.6" x2="852.2" y2="1131.6"/></g>
<g id="b4-n3"><text class="t" y="1320.8"><tspan x="606.6">男方与女方于_年_月_日在_登记结婚__因感</tspan><tspan x="606.6" dy="15.5">情破裂致使夫妻感情确已破裂，无法一同生活</tspan><tspan x="606.6" dy="15.5">，已无和好可能，现经夫妻双方自愿协商达成</tspan><tspan x="606.6" dy="15.5">一致意见，订立离婚协议如下：</tspan></text><line class="u" x1="600.3" y1="1376.7" x2="852.2" y2="1376.7"/></g>
<g id="b4-n3-1"><text class="t" x="437" y="1175.9">一、男女双方均自愿离婚;</text><line class="u" x1="431" y1="1185.7" x2="577" y2="1185.7"/></g>
<g id="b4-n3-2"><text class="t" y="1230"><tspan x="331.6">二、双方无子女(有由谁抚养)，固定房屋(房</tspan><tspan x="331.6" dy="15.5">屋位置)__市区县一处属于女方所有(贷款由</tspan><tspan x="331.6" dy="15.5">女方独自还清)，别克牌汽车属男方所有，不</tspan><tspan x="331.6" dy="15.5">涉及任何财产纠纷。</tspan></text><line class="u" x1="326" y1="1284.9" x2="577" y2="1284.9"/></g>
<g id="b4-n3-3"><text class="t" y="1543.3"><tspan x="331.6">三、离婚后，双方生活互不相干，不得干涉对</tspan><tspan x="331.6" dy="15.5">方今后的生活。</tspan></text><line class="u" x1="326" y1="1567.3" x2="577" y2="1567.3"/></g>
<g id="b4-n3-3-1"><text class="t" y="1329.1"><tspan x="58">四：婚姻财产中存款80000元归男方所有(提</tspan><tspan x="58" dy="15.5">高一方贷款额度)，其他财产婚前双方各自的</tspan><tspan x="58" dy="15.5">财产归各自所有，男女双方各自的私人生活用</tspan><tspan x="58" dy="15.5">品及首饰归各自所有</tspan></text><line class="u" x1="51" y1="1384.6" x2="303.6" y2="1384.6"/></g>
<g id="b4-n3-3-2"><text class="t" y="1428.9"><tspan x="58">本协议一式两份，男、女双方各执一份，签字</tspan><tspan x="58" dy="15.5">后立即生效。未尽事宜，双方协商解决。</tspan></text><line class="u" x1="51" y1="1453.3" x2="303.6" y2="1453.3"/></g>
<g id="b4-n3-3-3"><text class="t" y="1496.6"><tspan x="58">如本协议生效后在执行中发生争议的，双方应</tspan><tspan x="58" dy="15.5">协商解决，协商不成，任何一方均可向当地人</tspan><tspan x="58" dy="15.5">民法院起诉。</tspan></text><line class="u" x1="51" y1="1536.8" x2="303.6" y2="1536.8"/></g>
<g id="b4-n3-3-4"><text class="t" x="212.4" y="1581.1">男方(签名)：__</text><line class="u" x1="206.8" y1="1590.4" x2="303.6" y2="1590.4"/></g>
<g id="b4-n3-3-5"><text class="t" x="212.4" y="1634.2">女方(签名)：__</text><line class="u" x1="206.8" y1="1643.4" x2="303.6" y2="1643.4"/></g>
<g id="b4-n3-3-6"><text class="t" x="228.5" y="1686.7">年__月__日</text><line class="u" x1="223" y1="1696" x2="303.6" y2="1696"/></g>
<g id="b4-n3-3-7"><text class="t" x="212.4" y="1740.7">__年__月__日</text><line class="u" x1="206.8" y1="1749" x2="303.6" y2="1749"/></g>

<g id="b6-n1"><text class="t" y="1900"><tspan x="607">协议人_与_于20_年_月_日在 市 区民政</tspan><tspan x="607" dy="15.5">局登记结婚，因婚后双方性格不合，导致夫妻</tspan><tspan x="607" dy="15.5">感情破裂，现双方自愿离婚，并达成离婚协议</tspan><tspan x="607" dy="15.5">如下：</tspan></text><line class="u" x1="600.7" y1="1955" x2="851" y2="1955"/></g>
<g id="b6-n1-1"><text class="t" x="419" y="1794">一、协议人_与_自愿离婚；</text><line class="u" x1="412.5" y1="1802.3" x2="578" y2="1802.3"/></g>
<g id="b6-n1-2"><text class="t" y="1846.7"><tspan x="332.8">二、婚生女_现年5岁，由_抚养，_于每月</tspan><tspan x="332.8" dy="15.5">初支付张某抚养费500元，直至_年满 8周岁</tspan><tspan x="332.8" dy="15.5">；</tspan></text><line class="u" x1="325.8" y1="1886.7" x2="578" y2="1886.7"/></g>
<g id="b6-n1-3"><text class="t" y="1930.7"><tspan x="332.8">三、_有权于每月第一个星期六探望小孩，探</tspan><tspan x="332.8" dy="15.5">望方式双方可另行协商；</tspan></text><line class="u" x1="325.8" y1="1955" x2="578" y2="1955"/></g>
<g id="b6-n1-4"><text class="t" y="2000"><tspan x="332.8">四、夫妻共同财产：位于 市 区 号房屋一套归</tspan><tspan x="332.8" dy="15.5">_所有，_支付_房屋对半价值_年 月 日前</tspan><tspan x="332.8" dy="15.5">协助_办理房屋过户手续；</tspan></text><line class="u" x1="325.8" y1="2039" x2="578" y2="2039"/></g>
<g id="b6-n1-5"><text class="t" x="428.5" y="2098.3">五、双方无共同债权债务。</text><line class="u" x1="422" y1="2107.7" x2="578" y2="2107.7"/></g>
<g id="b6-n1-5-1"><text class="t" y="2084"><tspan x="154.2">本协议一式三份，协议人双方及婚姻登记机关</tspan><tspan x="154.2" dy="15.5">各持一份。</tspan></text><line class="u" x1="148" y1="2107.7" x2="398" y2="2107.7"/></g>
<g id="b6-n2"><text class="t" x="798.4" y="2151.7">协议人：</text><line class="u" x1="792" y1="2161" x2="851" y2="2161"/></g>
<g id="b6-n2-1"><text class="t" x="695.7" y="2151.7">_年_月_日</text><line class="u" x1="690" y1="2161" x2="770" y2="2161"/></g>
<g id="b6-n3"><text class="t" x="798.4" y="2205.7">协议人：</text><line class="u" x1="792" y1="2214" x2="851" y2="2214"/></g>
<g id="b6-n3-1"><text class="t" x="695.7" y="2205.7">_年_月_日</text><line class="u" x1="690" y1="2214" x2="770" y2="2214"/></g>

<g id="b8-n1"><text class="t" x="606.5" y="2258">离婚财产分割协议书最新的20__范本</text><line class="u" x1="600" y1="2282.2" x2="851" y2="2282.2"/></g>
<g id="b8-n2"><text class="t" y="2326.4"><tspan x="606.5">男方：______，______族，______年____</tspan><tspan x="606.5" dy="15.5">__月______日生，住址______，身份证号_</tspan><tspan x="606.5" dy="15.5">____________</tspan></text><line class="u" x1="600" y1="2365.8" x2="851" y2="2365.8"/></g>
<g id="b8-n3"><text class="t" y="2410"><tspan x="606.5">女方：______，______族，______年____</tspan><tspan x="606.5" dy="15.5">__月______日生，住址______，身份证号_</tspan><tspan x="606.5" dy="15.5">___________</tspan></text><line class="u" x1="600" y1="2450.2" x2="851" y2="2450.2"/></g>
<g id="b8-n4"><text class="t" y="2634.6"><tspan x="606.5">协议双方已于______年______月______日</tspan><tspan x="606.5" dy="15.5">在______市达成离婚协议并登记离婚，现双</tspan><tspan x="606.5" dy="15.5">方协商一致自愿对离婚财产分割达成协议如下</tspan><tspan x="606.5" dy="15.5">：</tspan></text><line class="u" x1="600" y1="2690" x2="851" y2="2690"/></g>
<g id="b8-n4-1"><text class="t" y="2495.7"><tspan x="331.7">登记在男、女双方名下坐落于______市_____</tspan><tspan x="331.7" dy="15.5">___路______小区______号______层_____</tspan><tspan x="331.7" dy="15.5">__室的房产，离婚后属于______方的共有份</tspan><tspan x="331.7" dy="15.5">额归______方所有。</tspan></text><line class="u" x1="326" y1="2550" x2="578" y2="2550"/></g>
<g id="b8-n4-2"><text class="t" y="2593.6"><tspan x="331.7">本协议生效后，如发生违约，则由违约一方承</tspan><tspan x="331.7" dy="15.5">担相应的经济、法律责任。</tspan></text><line class="u" x1="326" y1="2618.5" x2="578" y2="2618.5"/></g>
<g id="b8-n4-3"><text class="t" x="406.4" y="2663">男方：____________________</text><line class="u" x1="400.5" y1="2671.1" x2="577.5" y2="2671.1"/></g>
<g id="b8-n4-4"><text class="t" x="406.4" y="2715.3">______年______月______日</text><line class="u" x1="400.5" y1="2724.2" x2="577.5" y2="2724.2"/></g>
<g id="b8-n4-5"><text class="t" x="406.4" y="2769.2">女方：____________________</text><line class="u" x1="400.5" y1="2777.2" x2="577.5" y2="2777.2"/></g>
<g id="b8-n4-6"><text class="t" x="406.4" y="2821.8">______年______月______日</text><line class="u" x1="400.5" y1="2830.6" x2="577.5" y2="2830.6"/></g>
</svg>
